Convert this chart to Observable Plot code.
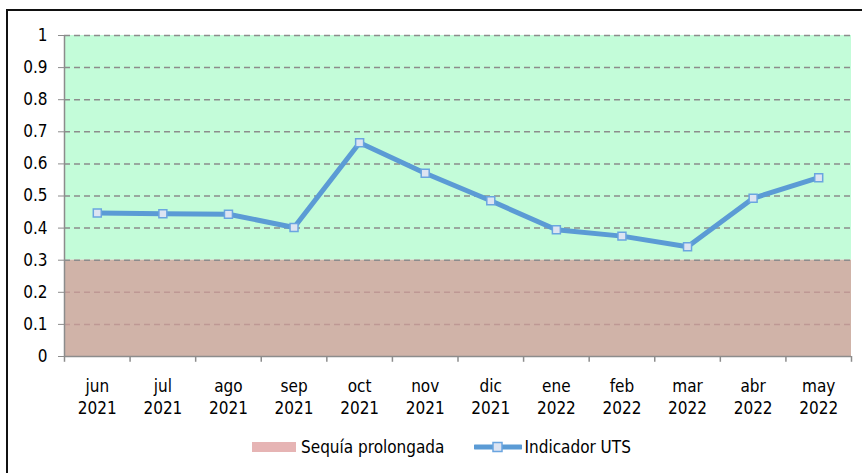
<!DOCTYPE html>
<html>
<head>
<meta charset="utf-8">
<script src="https://cdn.jsdelivr.net/npm/d3@7"></script>
<script src="https://cdn.jsdelivr.net/npm/@observablehq/plot@0.6"></script>
<style>
  html, body { margin: 0; padding: 0; background: #fff; }
  #wrap { position: relative; width: 862px; height: 473px; overflow: hidden;
          font-family: "DejaVu Sans Condensed", "DejaVu Sans", sans-serif; }
  #border { position: absolute; left: 6px; top: 9px; width: 900px; height: 500px;
            border: 2px solid #111; box-sizing: border-box; }
  #chart { position: absolute; left: 0; top: 0; }
  #legend { position: absolute; top: 437px; left: 252px; display: flex; align-items: center;
            font-size: 17px; color: #000; height: 20px; }
  .sw { display: inline-block; width: 44px; height: 10px; background: #e6b4b4; margin-right: 5px; }
  .item { display: flex; align-items: center; }
</style>
</head>
<body>
<div id="wrap">
  <div id="border"></div>
  <div id="chart"></div>
  <div id="legend"></div>
</div>
<script>
const months = ["jun", "jul", "ago", "sep", "oct", "nov", "dic", "ene", "feb", "mar", "abr", "may"];
const years = ["2021", "2021", "2021", "2021", "2021", "2021", "2021", "2022", "2022", "2022", "2022", "2022"];
const utsValues = [0.447, 0.445, 0.443, 0.402, 0.666, 0.571, 0.485, 0.395, 0.375, 0.342, 0.493, 0.557];
const yTicks = [0, 0.1, 0.2, 0.3, 0.4, 0.5, 0.6, 0.7, 0.8, 0.9, 1];
const droughtZone = [0, 0.3];   // Sequía prolongada
const normalZone = [0.3, 1];
const legendLabels = ["Sequía prolongada", "Indicador UTS"];

const data = months.map((m, i) => ({ i, pos: i + 0.5, label: m + "\n" + years[i], value: utsValues[i] }));
const boundaries = d3.range(months.length + 1);

const LINE = "#5b9bd5";
const FONT = "\"DejaVu Sans Condensed\", \"DejaVu Sans\", sans-serif";

const chart = Plot.plot({
  width: 862,
  height: 420,
  marginLeft: 64,
  marginRight: 11,
  marginTop: 35,
  marginBottom: 64,
  style: { fontFamily: FONT, fontSize: "17px", background: "transparent", color: "#000" },
  x: { type: "linear", domain: [0, months.length], axis: null, label: null },
  y: { domain: [0, 1], axis: null, label: null },
  marks: [
    Plot.rect([normalZone], { y1: d => d[0], y2: d => d[1], fill: "#c3fcd9" }),
    Plot.rect([droughtZone], { y1: d => d[0], y2: d => d[1], fill: "#d0b3a8" }),
    Plot.ruleY(yTicks.filter(t => t > 0 && t < 0.3), { stroke: "#be9894", strokeWidth: 1.5, strokeDasharray: "6,4" }),
    Plot.ruleY(yTicks.filter(t => t >= 0.3), { stroke: "#8c8c8c", strokeWidth: 1.5, strokeDasharray: "6,4" }),
    Plot.ruleX([0], { stroke: "#8c8c8c", strokeWidth: 1.5 }),
    Plot.ruleY([0], { stroke: "#8c8c8c", strokeWidth: 1.5 }),
    Plot.ruleX(boundaries, { x: d => d, y1: 0, y2: -0.018, stroke: "#8c8c8c", strokeWidth: 1.5 }),
    Plot.axisY({ ticks: yTicks, tickSize: 6, tickPadding: 11, stroke: "#8c8c8c", label: null,
                 tickFormat: d => String(+d.toFixed(1)), fontSize: 17, fill: "#000" }),
    Plot.text(data, { x: "pos", y: 0, text: "label", lineAnchor: "top", dy: 21, lineHeight: 1.24,
                      fontSize: 17, fill: "#000" }),
    Plot.line(data, { x: "pos", y: "value", stroke: LINE, strokeWidth: 5, strokeLinejoin: "miter" }),
    Plot.dot(data, { x: "pos", y: "value", symbol: "square", r: 4.5, fill: "#dde4f2", stroke: "#6aa5e0", strokeWidth: 1.5 })
  ]
});
document.getElementById("chart").appendChild(chart);

const legend = document.getElementById("legend");
legend.innerHTML =
  `<span class="item"><span class="sw"></span><span>${legendLabels[0]}</span></span>` +
  `<span class="item" style="margin-left:30px"><svg width="48" height="14" style="margin-right:2px">
     <line x1="1" y1="7" x2="47" y2="7" stroke="${LINE}" stroke-width="5" stroke-linecap="round"/>
     <rect x="19" y="2.5" width="9" height="9" fill="#dde4f2" stroke="#6aa5e0" stroke-width="1.5"/>
   </svg><span>${legendLabels[1]}</span></span>`;
</script>
</body>
</html>
